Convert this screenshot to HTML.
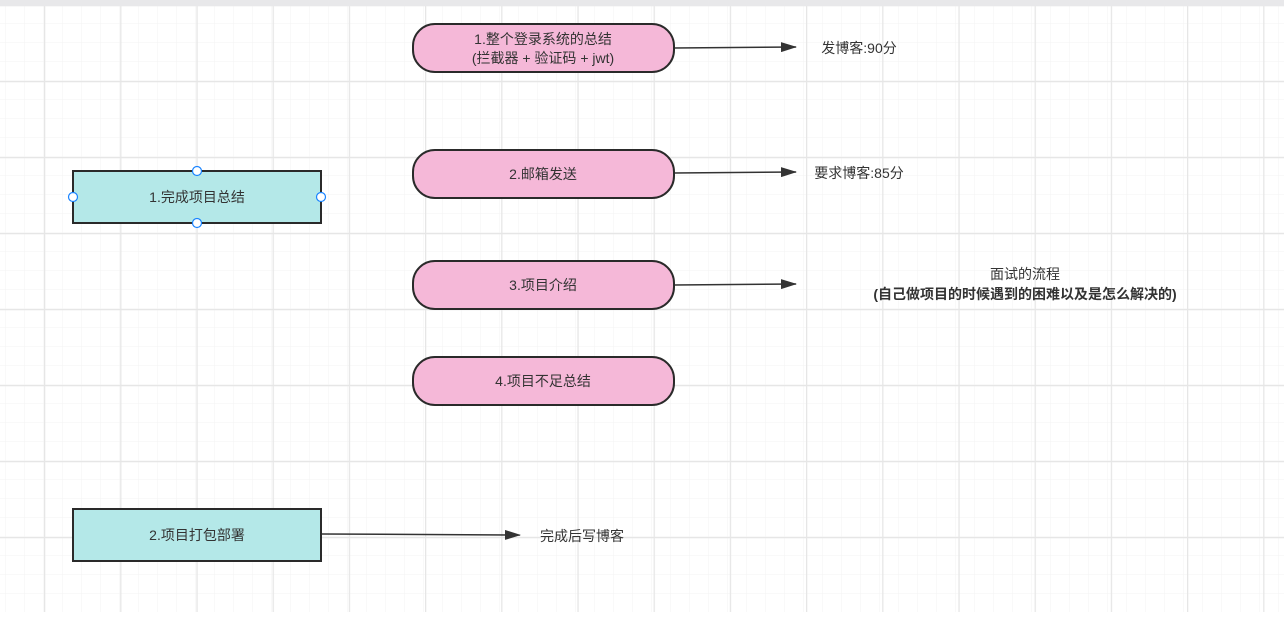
<!DOCTYPE html>
<html><head><meta charset="utf-8"><style>
body{margin:0;width:1284px;height:612px;overflow:hidden;background:#fff;font-family:"Liberation Sans","Noto Sans CJK SC",sans-serif;}
svg text{font-family:"Liberation Sans","Noto Sans CJK SC",sans-serif;font-size:14px;fill:#333;}
</style></head><body>
<svg width="1284" height="612" xmlns="http://www.w3.org/2000/svg">
<defs>
<pattern id="minor" x="6" y="5" width="19" height="19" patternUnits="userSpaceOnUse"><path d="M19 0V19M0 19H19" stroke="#f3f3f3" stroke-width="1" fill="none"/></pattern>
<pattern id="major" x="44" y="5" width="76.2" height="76" patternUnits="userSpaceOnUse"><path d="M0.5 0V76M0 0.5H76.2" stroke="#e6e6e6" stroke-width="1.5" fill="none"/></pattern>
<marker id="ar" markerWidth="16" markerHeight="10" refX="15" refY="5" orient="auto" markerUnits="userSpaceOnUse"><path d="M0 0L16 5L0 10Z" fill="#333"/></marker>
</defs>
<rect width="1284" height="612" fill="url(#minor)"/>
<rect width="1284" height="612" fill="url(#major)"/>
<rect width="1284" height="6" fill="#e8e8ea"/>

<g stroke="#333" stroke-width="1.5" fill="none">
<line x1="674" y1="48" x2="796" y2="47" marker-end="url(#ar)"/>
<line x1="674" y1="173" x2="796" y2="172" marker-end="url(#ar)"/>
<line x1="674" y1="285" x2="796" y2="284" marker-end="url(#ar)"/>
<line x1="322" y1="534" x2="520" y2="535" marker-end="url(#ar)"/>
</g>

<g fill="#f5b8d8" stroke="#2a2a2a" stroke-width="2">
<rect x="413" y="24" width="261" height="48" rx="22"/>
<rect x="413" y="150" width="261" height="48" rx="22"/>
<rect x="413" y="261" width="261" height="48" rx="22"/>
<rect x="413" y="357" width="261" height="48" rx="22"/>
</g>
<g fill="#b4e8e8" stroke="#2a2a2a" stroke-width="2">
<rect x="73" y="171" width="248" height="52"/>
<rect x="73" y="509" width="248" height="52"/>
</g>
<g fill="#fff" stroke="#1a84ff" stroke-width="1.2">
<circle cx="197" cy="171" r="4.5"/><circle cx="197" cy="223" r="4.5"/>
<circle cx="73" cy="197" r="4.5"/><circle cx="321" cy="197" r="4.5"/>
</g>

<g text-anchor="middle">
<text x="543" y="44">1.整个登录系统的总结</text>
<text x="543" y="63">(拦截器 + 验证码 + jwt)</text>
<text x="543" y="179">2.邮箱发送</text>
<text x="543" y="290">3.项目介绍</text>
<text x="543" y="386">4.项目不足总结</text>
<text x="197" y="202">1.完成项目总结</text>
<text x="197" y="540">2.项目打包部署</text>
<text x="859" y="53">发博客:90分</text>
<text x="859" y="178">要求博客:85分</text>
<text x="1025" y="279">面试的流程</text>
<text x="1025" y="299" style="font-weight:bold">(自己做项目的时候遇到的困难以及是怎么解决的)</text>
<text x="582" y="541">完成后写博客</text>
</g>
</svg>
</body></html>
